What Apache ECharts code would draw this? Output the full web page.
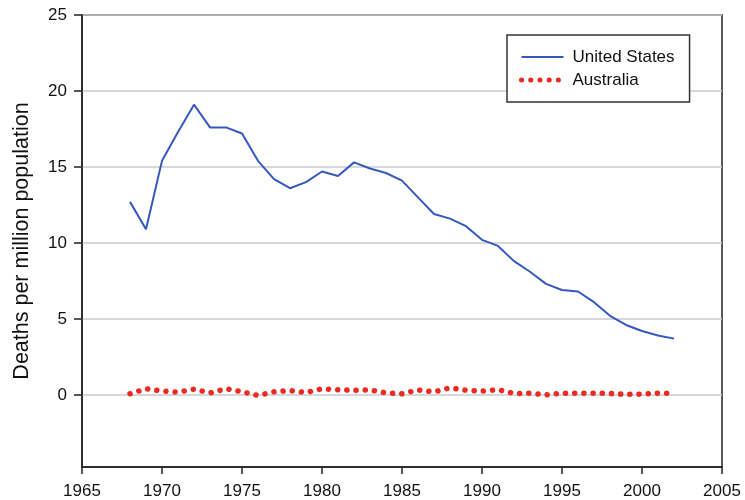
<!DOCTYPE html>
<html>
<head>
    <meta charset="utf-8">
    <title>Deaths per million population</title>
    <script src="https://cdn.jsdelivr.net/npm/echarts@6/dist/echarts.min.js"></script>
    <style>
        html, body { margin: 0; padding: 0; background: #fff; }
        #main { width: 745px; height: 500px; }
    </style>
</head>
<body>
    <div id="main"></div>
    <script type="text/javascript">
        // years 1968 - 2002
        var years = [];
        for (var y = 1968; y <= 2002; y++) years.push(y);

        var usDeaths = [12.7, 10.9, 15.4, 17.3, 19.1, 17.6, 17.6, 17.2, 15.4, 14.2,
                        13.6, 14.0, 14.7, 14.4, 15.3, 14.9, 14.6, 14.1, 13.0, 11.9,
                        11.6, 11.1, 10.2, 9.8, 8.8, 8.1, 7.3, 6.9, 6.8, 6.1,
                        5.2, 4.6, 4.2, 3.9, 3.7];
        var ausDeaths = [0.07, 0.4, 0.25, 0.18, 0.37, 0.12, 0.4, 0.2, -0.04, 0.2,
                         0.28, 0.15, 0.4, 0.33, 0.3, 0.32, 0.13, 0.07, 0.32, 0.2,
                         0.46, 0.3, 0.25, 0.34, 0.09, 0.1, 0.0, 0.1, 0.11, 0.11,
                         0.09, 0.03, 0.05, 0.11, 0.11];
        var yTicks = [0, 5, 10, 15, 20, 25];

        var font = 'Liberation Sans, Arial, sans-serif';

        function pairs(vals) {
            return years.map(function (yr, i) { return [yr, vals[i]]; });
        }

        var myChart = echarts.init(document.getElementById('main'));
        var option = {
            animation: false,
            textStyle: { fontFamily: font },
            grid: {
                left: 82, right: 23, top: 15, bottom: 33,
                outerBoundsMode: 'none',
                containLabel: false,
                show: true, borderColor: '#222', borderWidth: 1.5
            },
            legend: {
                orient: 'vertical',
                left: 507, top: 35,
                padding: [12, 15, 12, 12],
                itemWidth: 42, itemHeight: 14, itemGap: 3,
                borderColor: '#333', borderWidth: 1.5,
                backgroundColor: '#fff',
                textStyle: { fontSize: 17, color: '#111', lineHeight: 20, padding: [0, 0, 0, 4] },
                data: [
                    { name: 'United States', itemStyle: { opacity: 0 }, lineStyle: { width: 2, opacity: 1 } },
                    { name: 'Australia', itemStyle: { opacity: 0 }, lineStyle: { width: 5, opacity: 1 } }
                ]
            },
            xAxis: {
                type: 'value',
                min: 1965, max: 2005, interval: 5,
                axisLine: { onZero: false, lineStyle: { color: '#222', width: 1.5 } },
                axisTick: { length: 7, lineStyle: { color: '#222', width: 1.5 } },
                axisLabel: {
                    fontSize: 17, color: '#111', margin: 16,
                    formatter: function (v) { return String(v); }
                },
                splitLine: { show: false }
            },
            yAxis: {
                type: 'value',
                min: -4.75, max: 25,
                name: 'Deaths per million population',
                nameLocation: 'middle',
                nameGap: 49,
                nameTextStyle: { fontSize: 21.5, color: '#111' },
                axisLine: { show: true, onZero: false, lineStyle: { color: '#222', width: 1.5 } },
                axisTick: { show: true, length: 8, customValues: yTicks, lineStyle: { color: '#222', width: 1.5 } },
                axisLabel: { fontSize: 17, color: '#111', margin: 15, customValues: yTicks },
                splitLine: { show: true, lineStyle: { color: '#c8cbd2', width: 1.5 } }
            },
            series: [
                {
                    name: 'United States',
                    type: 'line',
                    symbol: 'none',
                    data: pairs(usDeaths),
                    lineStyle: { color: '#3558bf', width: 2 },
                    itemStyle: { color: '#3558bf' },
                    z: 3
                },
                {
                    name: 'Australia',
                    type: 'line',
                    symbol: 'none',
                    data: pairs(ausDeaths),
                    lineStyle: { color: '#ea2b22', width: 5.5, type: [0.1, 9.1], cap: 'round' },
                    itemStyle: { color: '#ea2b22' },
                    z: 2
                }
            ]
        };
        myChart.setOption(option);
    </script>
</body>
</html>
